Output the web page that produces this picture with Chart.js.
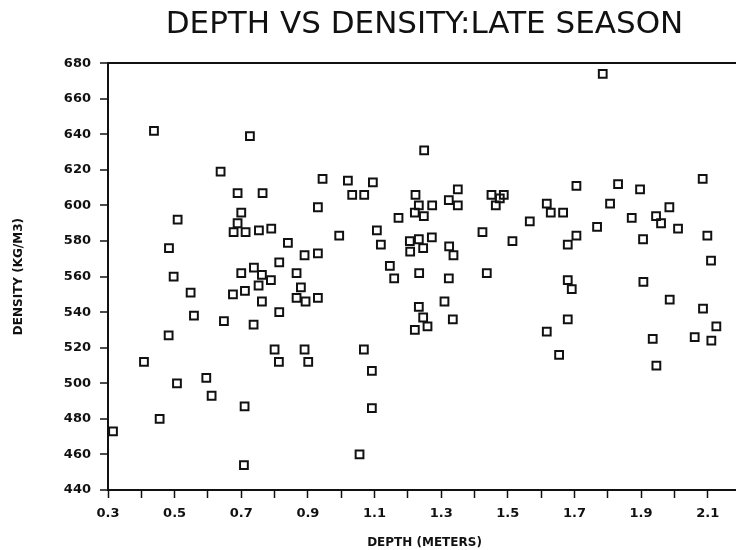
<!DOCTYPE html>
<html>
<head>
<meta charset="utf-8">
<script src="https://cdn.jsdelivr.net/npm/chart.js@4"></script>
<style>
  html, body { margin: 0; padding: 0; background: #fff; overflow: hidden; }
  canvas { display: block; }
</style>
</head>
<body>
<canvas id="depthChart" width="750" height="550"></canvas>
<script>
// depth (m) and density (kg/m3)
const depthMeters = [
  0.315, 0.408, 0.455, 0.482, 0.497, 0.507, 0.548, 0.558, 0.595, 0.611,
  0.648, 0.675, 0.700, 0.711, 0.738, 0.762, 0.752, 0.789, 0.762, 0.737,
  0.814, 0.814, 0.866, 0.879, 0.866, 0.893, 0.800, 0.813, 0.890, 0.901,
  0.710, 0.708, 0.438, 0.726, 0.638, 0.689, 0.764, 0.700, 0.509, 0.689,
  0.677, 0.713, 0.753, 0.790, 0.483, 0.840, 0.890, 1.249, 0.944, 1.020,
  1.095, 1.033, 1.069, 0.930, 1.223, 1.350, 1.233, 1.273, 1.221, 1.248,
  1.323, 1.350, 1.172, 1.451, 1.488, 1.476, 1.464, 1.424, 1.514, 0.994,
  1.107, 1.119, 0.930, 1.206, 1.233, 1.272, 1.207, 1.246, 1.324, 1.337,
  1.146, 1.159, 1.234, 1.323, 1.437, 0.930, 1.233, 1.310, 1.246, 1.259,
  1.221, 1.335, 1.068, 1.092, 1.092, 1.055, 1.785, 2.085, 1.706, 1.831,
  1.897, 1.807, 1.617, 1.629, 1.666, 1.872, 1.945, 1.960, 1.985, 2.011,
  1.566, 1.768, 1.706, 1.680, 1.906, 2.099, 2.110, 1.680, 1.692, 1.907,
  1.986, 2.086, 2.126, 1.680, 1.617, 1.654, 1.935, 1.946, 2.061, 2.111
];
const densityKgM3 = [
  473, 512, 480, 527, 560, 500, 551, 538, 503, 493,
  535, 550, 562, 552, 565, 561, 555, 558, 546, 533,
  540, 568, 562, 554, 548, 546, 519, 512, 519, 512,
  487, 454, 642, 639, 619, 607, 607, 596, 592, 590,
  585, 585, 586, 587, 576, 579, 572, 631, 615, 614,
  613, 606, 606, 599, 606, 609, 600, 600, 596, 594,
  603, 600, 593, 606, 606, 604, 600, 585, 580, 583,
  586, 578, 573, 580, 581, 582, 574, 576, 577, 572,
  566, 559, 562, 559, 562, 548, 543, 546, 537, 532,
  530, 536, 519, 507, 486, 460, 674, 615, 611, 612,
  609, 601, 601, 596, 596, 593, 594, 590, 599, 587,
  591, 588, 583, 578, 581, 583, 569, 558, 553, 557,
  547, 542, 532, 536, 529, 516, 525, 510, 526, 524
];

const xTickMarks = [0.3, 0.4, 0.5, 0.6, 0.7, 0.8, 0.9, 1.0, 1.1, 1.2, 1.3,
  1.4, 1.5, 1.6, 1.7, 1.8, 1.9, 2.0, 2.1, 2.2];
const xTickLabels = ['0.3', '0.5', '0.7', '0.9', '1.1', '1.3', '1.5', '1.7', '1.9', '2.1'];
const yTickValues = [440, 460, 480, 500, 520, 540, 560, 580, 600, 620, 640, 660, 680];

const points = depthMeters.map((d, i) => ({ x: d, y: densityKgM3[i] }));

const tickFont = { family: "'DejaVu Sans', sans-serif", size: 13, weight: 'bold' };

new Chart(document.getElementById('depthChart'), {
  type: 'scatter',
  data: {
    datasets: [{
      data: points,
      pointStyle: 'rect',
      pointRadius: 5.5,
      pointBorderWidth: 2,
      borderColor: '#111',
      backgroundColor: 'rgba(0,0,0,0)'
    }]
  },
  options: {
    responsive: false,
    animation: false,
    layout: { padding: { left: 0, right: 9, top: 0, bottom: 0 } },
    plugins: {
      legend: { display: false },
      tooltip: { enabled: false },
      title: {
        display: true,
        fullSize: false,
        text: 'DEPTH VS DENSITY:LATE SEASON',
        color: '#111',
        font: { family: "'DejaVu Sans', sans-serif", size: 31, weight: 'normal' },
        padding: { top: 6, bottom: 20 }
      }
    },
    scales: {
      x: {
        type: 'linear',
        min: 0.3,
        max: 2.2,
        afterBuildTicks: s => { s.ticks = xTickMarks.map(v => ({ value: v })); },
        afterFit: s => { s.height = 60; },
        border: { display: true, color: '#111', width: 2 },
        grid: { drawOnChartArea: false, tickLength: 8, tickColor: '#111', tickWidth: 1.5 },
        ticks: {
          autoSkip: false,
          maxRotation: 0,
          padding: 8,
          color: '#111',
          font: tickFont,
          callback: v => {
            const t = Number(v).toFixed(1);
            return xTickLabels.includes(t) ? t : '';
          }
        },
        title: {
          display: true,
          text: 'DEPTH (METERS)',
          color: '#111',
          font: { family: "'DejaVu Sans', sans-serif", size: 12, weight: 'bold' },
          padding: { top: 0, bottom: 0 }
        }
      },
      y: {
        min: 440,
        max: 680,
        afterBuildTicks: s => { s.ticks = yTickValues.map(v => ({ value: v })); },
        afterFit: s => { s.width = 108; },
        border: { display: true, color: '#111', width: 2 },
        grid: {
          drawOnChartArea: true,
          color: c => (c.tick && c.tick.value === 680 ? '#111' : 'rgba(0,0,0,0)'),
          lineWidth: 2,
          tickLength: 8,
          tickColor: '#111',
          tickWidth: 1.5
        },
        ticks: { padding: 9, color: '#111', font: tickFont },
        title: {
          display: true,
          text: 'DENSITY (KG/M3)',
          color: '#111',
          font: { family: "'DejaVu Sans', sans-serif", size: 12, weight: 'bold' },
          padding: { top: 12, bottom: 0 }
        }
      }
    }
  }
});
</script>
</body>
</html>
